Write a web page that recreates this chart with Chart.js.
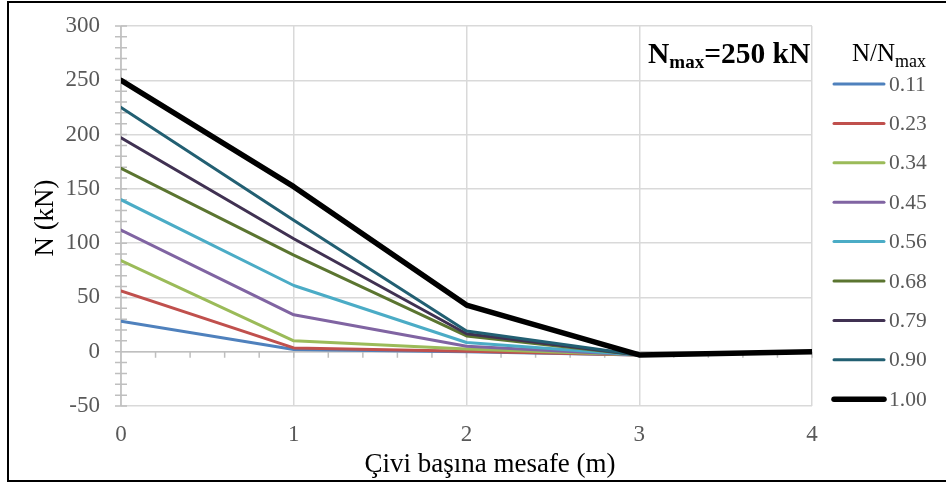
<!DOCTYPE html>
<html>
<head>
<meta charset="utf-8">
<script src="https://cdn.jsdelivr.net/npm/chart.js@4.4.1/dist/chart.umd.min.js"></script>
<style>
  html, body { margin: 0; padding: 0; background: #fff; }
  #wrap { position: relative; width: 946px; height: 486px; }
</style>
</head>
<body>
<div id="wrap"><canvas id="myChart" width="946" height="486"></canvas></div>
<script>
// Distance along the nail (m) and axial force N (kN) for each N/Nmax ratio
const distances = [0, 1, 2, 3, 4];
const ratioLabels = ['0.11', '0.23', '0.34', '0.45', '0.56', '0.68', '0.79', '0.90', '1.00'];
const n011 = [28, 2, 0, -3, 0];
const n023 = [56, 3.5, 0.5, -3, 0];
const n034 = [84, 10, 2.5, -3, 0];
const n045 = [112, 34, 5, -3, 0];
const n056 = [140, 61, 8.5, -3, 0];
const n068 = [169, 89, 14.5, -3, 0];
const n079 = [197, 104, 16.5, -3, 0];
const n090 = [225, 121, 19, -3, 0];
const n100 = [250, 152, 43, -3, 0];
const yTicks = [-50, 0, 50, 100, 150, 200, 250, 300];
const xTicks = [0, 1, 2, 3, 4];

const seriesValues = [n011, n023, n034, n045, n056, n068, n079, n090, n100];
const colors = ['#4F81BD', '#C0504D', '#9BBB59', '#8064A2', '#4BACC6', '#5B7530', '#403152', '#225F72', '#000000'];

const datasets = seriesValues.map((vals, i) => ({
    label: ratioLabels[i],
    data: vals.map((v, j) => ({ x: distances[j], y: v })),
    borderColor: colors[i],
    backgroundColor: colors[i],
    borderWidth: i === seriesValues.length - 1 ? 5.5 : 3,
    pointRadius: 0,
    tension: 0,
    borderJoinStyle: 'round',
    borderCapStyle: 'round',
    order: seriesValues.length - i
}));

const serif = '"Liberation Serif", "Times New Roman", serif';

// axes lines, minor ticks, texts with subscripts, legend
const decor = {
    id: 'decor',
    beforeDatasetsDraw(chart) {
        const ctx = chart.ctx;
        const xs = chart.scales.x, ys = chart.scales.y;
        const a = chart.chartArea;
        ctx.save();
        ctx.strokeStyle = '#bfbfbf';
        ctx.lineWidth = 1.5;
        // y axis with ticks every 10
        ctx.beginPath();
        ctx.moveTo(a.left, a.top);
        ctx.lineTo(a.left, a.bottom);
        for (let v = yTicks[0]; v <= yTicks[yTicks.length - 1]; v += 10) {
            const y = ys.getPixelForValue(v);
            ctx.moveTo(a.left - 6, y);
            ctx.lineTo(a.left + 6, y);
        }
        // x axis crossing at 0, ticks every 0.2
        const y0 = ys.getPixelForValue(0);
        ctx.moveTo(a.left, y0);
        ctx.lineTo(a.right, y0);
        for (let k = 0; k <= 20; k++) {
            const x = xs.getPixelForValue(k * 0.2);
            ctx.moveTo(x, y0);
            ctx.lineTo(x, y0 + 6);
        }
        ctx.stroke();
        ctx.restore();
    },
    afterDraw(chart) {
        const ctx = chart.ctx;
        ctx.save();
        // outer frame (right edge falls outside the picture)
        ctx.strokeStyle = '#000';
        ctx.lineWidth = 2;
        ctx.strokeRect(8, 2, 945, 479);

        // axis titles
        ctx.fillStyle = '#000';
        ctx.font = '27px ' + serif;
        ctx.textAlign = 'center';
        ctx.textBaseline = 'alphabetic';
        ctx.fillText('Çivi başına mesafe (m)', 490, 472);
        ctx.save();
        ctx.translate(53, 218);
        ctx.rotate(-Math.PI / 2);
        ctx.fillText('N (kN)', 0, 0);
        ctx.restore();

        // annotation Nmax=250 kN
        ctx.textAlign = 'left';
        let x = 648;
        ctx.font = 'bold 29.5px ' + serif;
        ctx.fillText('N', x, 63);
        x += ctx.measureText('N').width;
        ctx.font = 'bold 19px ' + serif;
        ctx.fillText('max', x, 68);
        x += ctx.measureText('max').width;
        ctx.font = 'bold 29.5px ' + serif;
        ctx.fillText('=250 kN', x, 63);

        // legend title N/Nmax
        x = 852;
        ctx.font = '25px ' + serif;
        ctx.fillText('N/N', x, 61);
        x += ctx.measureText('N/N').width;
        ctx.font = '18px ' + serif;
        ctx.fillText('max', x, 67);

        // legend entries
        ctx.font = '21.5px ' + serif;
        ctx.textBaseline = 'middle';
        chart.data.datasets.forEach((ds, i) => {
            const y = 84 + i * 39.4;
            ctx.strokeStyle = ds.borderColor;
            ctx.lineWidth = ds.borderWidth;
            ctx.lineCap = 'round';
            ctx.beginPath();
            ctx.moveTo(834, y);
            ctx.lineTo(884, y);
            ctx.stroke();
            ctx.fillStyle = '#595959';
            ctx.fillText(ds.label, 889, y + 1);
        });
        ctx.restore();
    }
};

const ctx = document.getElementById('myChart').getContext('2d');
new Chart(ctx, {
    type: 'line',
    data: { datasets: datasets },
    options: {
        responsive: false,
        animation: false,
        layout: { padding: { left: 0, right: 134, top: 26, bottom: 0 } },
        plugins: {
            legend: { display: false },
            tooltip: { enabled: false }
        },
        scales: {
            x: {
                type: 'linear',
                min: 0,
                max: 4,
                afterBuildTicks: s => { s.ticks = xTicks.map(v => ({ value: v })); },
                afterFit: s => { s.height = 80; s.paddingLeft = 0; s.paddingRight = 0; },
                grid: { color: '#d9d9d9', lineWidth: 1.5, drawTicks: false },
                border: { display: false },
                ticks: { color: '#595959', font: { family: serif, size: 23 }, padding: 15 }
            },
            y: {
                min: -50,
                max: 300,
                afterBuildTicks: s => { s.ticks = yTicks.map(v => ({ value: v })); },
                afterFit: s => { s.width = 121; s.paddingTop = 0; s.paddingBottom = 0; },
                grid: { color: '#d9d9d9', lineWidth: 1.5, drawTicks: false },
                border: { display: false },
                ticks: { color: '#595959', font: { family: serif, size: 23 }, padding: 21 }
            }
        }
    },
    plugins: [decor]
});
</script>
</body>
</html>
